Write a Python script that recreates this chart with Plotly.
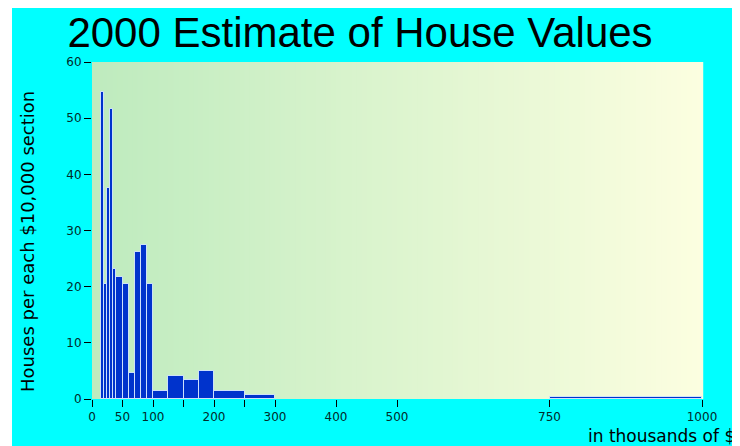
import plotly.graph_objects as go

# ---- data ----
bin_lo = [15, 20, 25, 30, 35, 40, 50, 60, 70, 80, 90, 100, 125, 150, 175, 200, 250, 750]
bin_hi = [20, 25, 30, 35, 40, 50, 60, 70, 80, 90, 100, 125, 150, 175, 200, 250, 300, 1000]
houses = [54.6, 20.5, 37.5, 51.7, 23.1, 21.8, 20.4, 4.7, 26.1, 27.5, 20.4,
          1.5, 4.1, 3.3, 5.0, 1.5, 0.8, 0.35]
x_tick_vals = [0, 50, 100, 150, 200, 250, 300, 400, 500, 750, 1000]
x_tick_text = ["0", "50", "100", "", "200", "", "300", "400", "500", "750", "1000"]
y_tick_vals = [0, 10, 20, 30, 40, 50, 60]

centers = [(a + b) / 2 for a, b in zip(bin_lo, bin_hi)]
widths = [b - a for a, b in zip(bin_lo, bin_hi)]

W, H = 740, 446
OFF = 8  # page body margin
L, R, T, B = 92 - OFF, 702 - OFF, 62 - OFF, 399 - OFF  # plot area in figure pixels


def px_x(p):  # page pixel -> paper x
    return (p - OFF - L) / (R - L)


def px_y(p):  # page pixel -> paper y
    return (B - (p - OFF)) / (B - T)


fig = go.Figure()
fig.add_trace(go.Bar(
    x=centers, y=houses, width=widths,
    marker=dict(color="#0033CC", line=dict(color="rgba(225,240,255,0.85)", width=1)),
    hoverinfo="skip",
))

shapes = []
# cyan frame
shapes.append(dict(type="rect", xref="paper", yref="paper", layer="below",
                   x0=px_x(12), x1=px_x(733), y0=px_y(460), y1=px_y(8),
                   fillcolor="#00FFFF", line=dict(width=0)))
# gradient background of plotting area
c0 = (190, 235, 190)
c1 = (252, 254, 224)
N = 120
for i in range(N):
    t = i / (N - 1)
    col = tuple(round(c0[k] + (c1[k] - c0[k]) * t) for k in range(3))
    shapes.append(dict(type="rect", xref="paper", yref="paper", layer="below",
                       x0=i / N, x1=(i + 1) / N + 0.002, y0=0, y1=1,
                       fillcolor="rgb(%d,%d,%d)" % col, line=dict(width=0)))

tick_font = dict(family="DejaVu Sans", size=12, color="#002a2a")

fig.update_layout(
    width=W, height=H,
    margin=dict(l=L, r=W - R, t=T, b=H - B, pad=0),
    paper_bgcolor="white",
    plot_bgcolor="rgba(0,0,0,0)",
    showlegend=False,
    bargap=0,
    shapes=shapes,
    title=dict(text="2000 Estimate of House Values",
               font=dict(family="Liberation Sans", size=42, color="black"),
               x=px_x(360), xref="paper", xanchor="center",
               y=1 - (32 - OFF) / H, yref="container", yanchor="middle"),
    xaxis=dict(range=[0, 1000], tickmode="array", tickvals=x_tick_vals, ticktext=x_tick_text,
               ticks="outside", ticklen=7, tickwidth=1, tickcolor="black",
               showgrid=False, zeroline=False, showline=False, tickfont=tick_font,
               fixedrange=True),
    yaxis=dict(range=[0, 60], tickmode="array", tickvals=y_tick_vals,
               ticks="outside", ticklen=7, tickwidth=1, tickcolor="black",
               showgrid=False, zeroline=False, showline=False, tickfont=tick_font,
               fixedrange=True),
    annotations=[
        dict(text="Houses per each $10,000 section", xref="paper", yref="paper",
             x=px_x(27), y=px_y(242), xanchor="center", yanchor="middle",
             textangle=-90, showarrow=False,
             font=dict(family="DejaVu Sans", size=18, color="black")),
        dict(text="in thousands of $", xref="paper", yref="paper",
             x=px_x(737), y=px_y(436), xanchor="right", yanchor="middle",
             showarrow=False,
             font=dict(family="DejaVu Sans", size=17, color="black")),
    ],
)

fig.write_html("out.html")
